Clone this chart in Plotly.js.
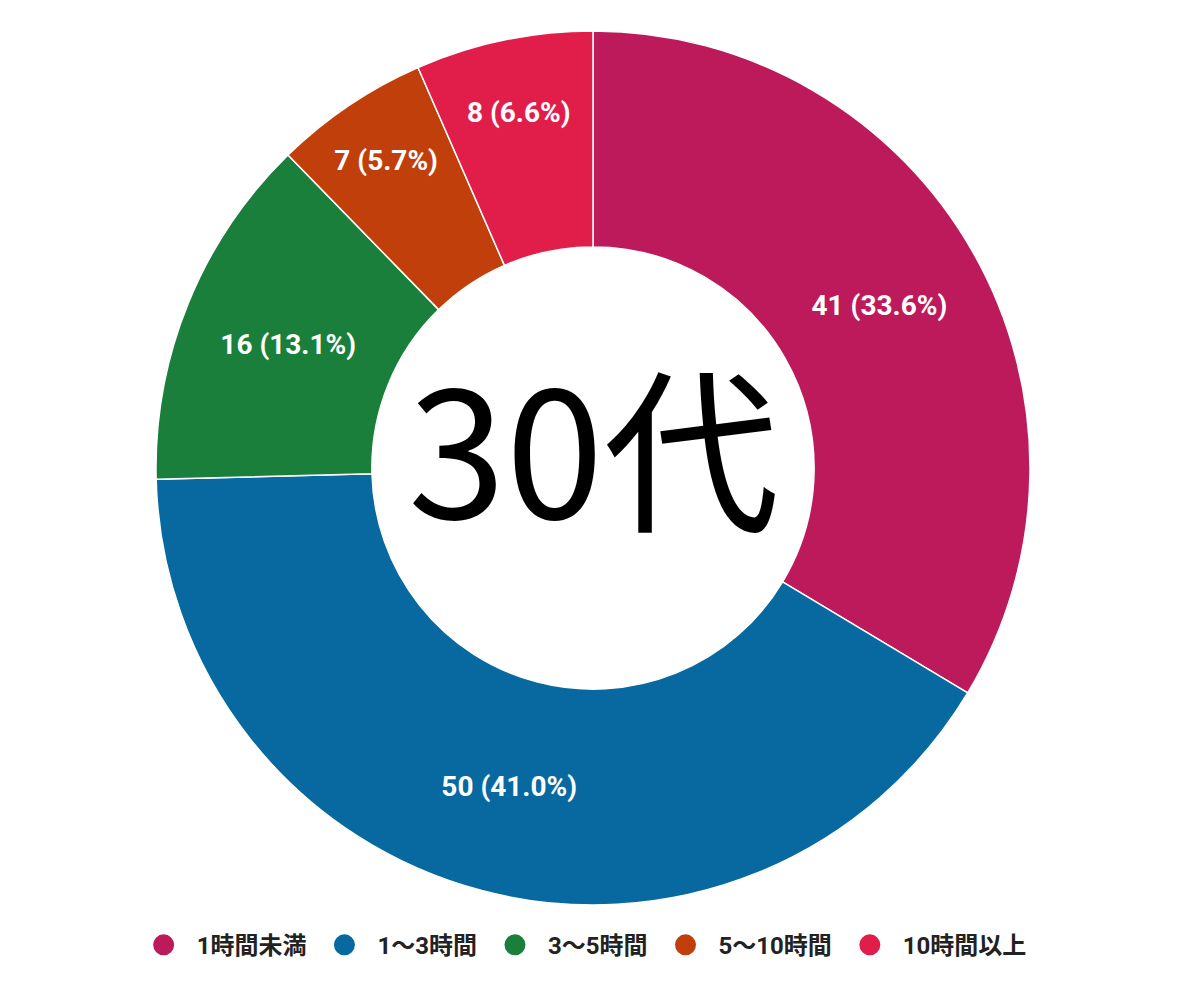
<!DOCTYPE html>
<html>
<head>
<meta charset="utf-8">
<script src="https://cdn.plot.ly/plotly-3.0.1.min.js"></script>
<style>
  html, body { margin: 0; padding: 0; background: #fff; }
  #plot { width: 1191px; height: 1001px; }
</style>
</head>
<body>
<div id="plot"></div>
<script>
/* global Plotly */

const categories = ['1時間未満', '1〜3時間', '3〜5時間', '5〜10時間', '10時間以上'];
const counts = [41, 50, 16, 7, 8];
const sliceColors = ['#BD1A5C', '#07699F', '#1A7F3B', '#C13F0A', '#E11E4A'];
const centerLabel = '30代';

const labelFont = "Roboto, 'Noto Sans CJK JP', sans-serif";

const pieTrace = {
  type: 'pie',
  labels: categories,
  values: counts,
  sort: false,
  direction: 'clockwise',
  rotation: 0,
  hole: 0.506,
  showlegend: false,
  marker: {
    colors: sliceColors,
    line: { color: '#ffffff', width: 1.5 },
  },
  texttemplate: '%{value} (%{percent:.1%})',
  textposition: 'inside',
  insidetextorientation: 'horizontal',
  textfont: { family: labelFont, size: 28, color: '#ffffff', weight: 700 },
  hoverinfo: 'label+value+percent',
};

// dummy traces so the legend can show round markers
const legendTraces = categories.map((name, i) => ({
  type: 'scatter',
  mode: 'markers',
  x: [null],
  y: [null],
  name,
  marker: {
    symbol: 'circle',
    size: 16,
    color: sliceColors[i],
    line: { color: sliceColors[i], width: 5 },
  },
  hoverinfo: 'skip',
}));

const layout = {
  width: 1191,
  height: 1001,
  margin: { t: 31, b: 96, l: 0, r: 5 },
  paper_bgcolor: '#ffffff',
  plot_bgcolor: '#ffffff',
  xaxis: { visible: false },
  yaxis: { visible: false },
  showlegend: true,
  legend: {
    orientation: 'h',
    x: 0.49,
    xanchor: 'center',
    y: -0.046,
    yanchor: 'middle',
    itemwidth: 56,
    font: { family: labelFont, size: 24, color: '#222222', weight: 700 },
  },
  annotations: [
    {
      text: centerLabel,
      x: 0.5,
      y: 0.5,
      xref: 'paper',
      yref: 'paper',
      yshift: 26,
      showarrow: false,
      font: { family: "'Noto Sans CJK JP', sans-serif", size: 176, color: '#000000' },
    },
  ],
};

Plotly.newPlot('plot', [pieTrace, ...legendTraces], layout, { displayModeBar: false, staticPlot: true });
</script>
</body>
</html>
